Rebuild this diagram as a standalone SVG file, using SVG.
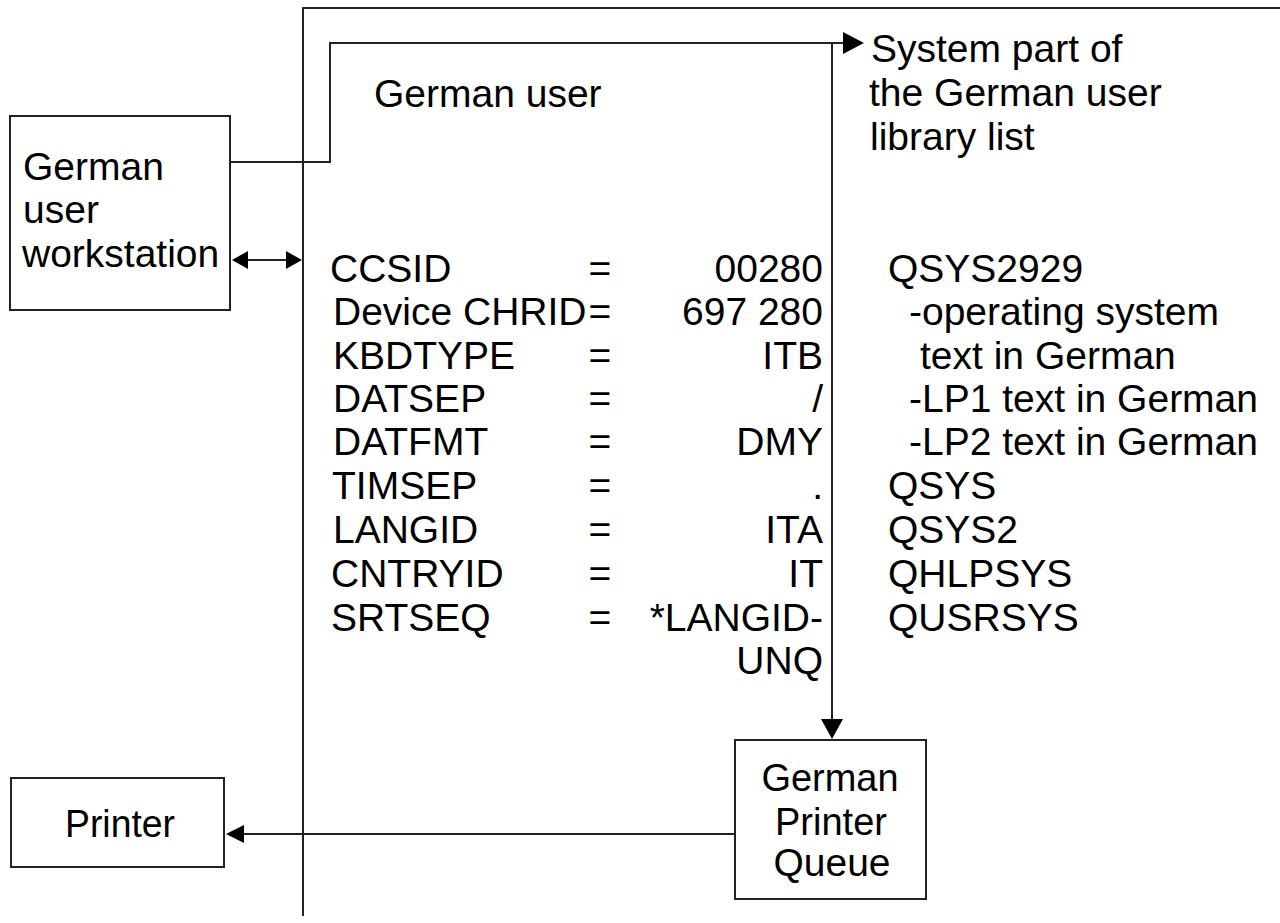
<svg xmlns="http://www.w3.org/2000/svg" width="1280" height="923" viewBox="0 0 1280 923">
<style>
text{font-family:"Liberation Sans",Arial,sans-serif;font-size:39px;fill:#000}
.r{text-anchor:end}
.m{text-anchor:middle}
.b{fill:#fff;stroke:#222;stroke-width:2}
.l{fill:none;stroke:#222;stroke-width:2}
.a{fill:#000;stroke:none}
</style>
<rect width="1280" height="923" fill="#fff"/>
<g id="connectors">
<path class="l" d="M1280 8H303V916"/>
<path class="l" d="M231 162H330V43H846"/>
<path class="l" d="M832 43V722"/>
<path class="l" d="M246 260H288"/>
<path class="l" d="M735 834H242"/>
<path class="a" d="M843 32L864 43L843 54Z"/>
<path class="a" d="M821 719H843L832 739Z"/>
<path class="a" d="M232 260L248 251V269Z"/>
<path class="a" d="M302 260L286 251V269Z"/>
<path class="a" d="M226 834L244 825V843Z"/>
</g>
<g id="workstation">
<rect class="b" x="10" y="116" width="220" height="194"/>
<text x="23" y="180">German</text>
<text x="23" y="223">user</text>
<text x="22" y="267">workstation</text>
</g>
<g id="printer">
<rect class="b" x="11" y="778" width="213" height="89"/>
<text x="65" y="837" textLength="110" lengthAdjust="spacingAndGlyphs">Printer</text>
</g>
<g id="queue">
<rect class="b" x="735" y="740" width="191" height="159"/>
<text class="m" x="830" y="791" textLength="137" lengthAdjust="spacingAndGlyphs">German</text>
<text class="m" x="831" y="835" textLength="112" lengthAdjust="spacingAndGlyphs">Printer</text>
<text class="m" x="832" y="876" textLength="117" lengthAdjust="spacingAndGlyphs">Queue</text>
</g>
<g id="german-user">
<text x="374" y="107">German user</text>
</g>
<g id="system-part">
<text x="871" y="62">System part of</text>
<text x="869" y="106">the German user</text>
<text x="870" y="150">library list</text>
</g>
<g id="attributes">
<text x="330" y="282">CCSID</text>
<text x="333" y="325">Device CHRID</text>
<text x="333" y="369">KBDTYPE</text>
<text x="333" y="412">DATSEP</text>
<text x="333" y="455">DATFMT</text>
<text x="332" y="499">TIMSEP</text>
<text x="333" y="543">LANGID</text>
<text x="331" y="587">CNTRYID</text>
<text x="331" y="631">SRTSEQ</text>
<text class="m" x="600" y="282">=</text>
<text class="m" x="600" y="325">=</text>
<text class="m" x="600" y="369">=</text>
<text class="m" x="600" y="412">=</text>
<text class="m" x="600" y="455">=</text>
<text class="m" x="600" y="499">=</text>
<text class="m" x="600" y="543">=</text>
<text class="m" x="600" y="587">=</text>
<text class="m" x="600" y="631">=</text>
<text class="r" x="823" y="282">00280</text>
<text class="r" x="823" y="325">697 280</text>
<text class="r" x="823" y="369">ITB</text>
<text class="r" x="823" y="412">/</text>
<text class="r" x="823" y="455">DMY</text>
<text class="r" x="823" y="499">.</text>
<text class="r" x="823" y="543">ITA</text>
<text class="r" x="823" y="587">IT</text>
<text class="r" x="823" y="631">*LANGID-</text>
<text class="r" x="823" y="674">UNQ</text>
</g>
<g id="libraries">
<text x="888" y="282">QSYS2929</text>
<text x="909" y="325">-operating system</text>
<text x="920" y="369">text in German</text>
<text x="909" y="412">-LP1 text in German</text>
<text x="909" y="455">-LP2 text in German</text>
<text x="888" y="499">QSYS</text>
<text x="888" y="543">QSYS2</text>
<text x="888" y="587">QHLPSYS</text>
<text x="888" y="631">QUSRSYS</text>
</g>
</svg>
